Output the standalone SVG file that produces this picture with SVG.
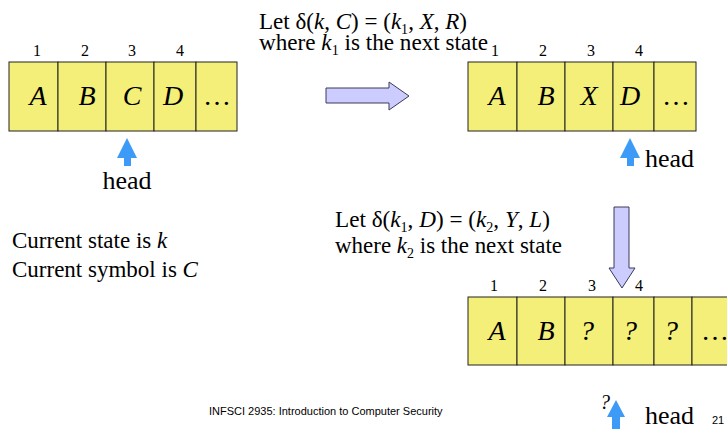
<svg xmlns="http://www.w3.org/2000/svg" width="727" height="429" viewBox="0 0 727 429">
<style>
.t{font-family:"Liberation Serif","Times New Roman",serif;fill:#000}
.cell{fill:#f3ef78;stroke:#222;stroke-width:1}
.sym{font-family:"Liberation Serif",serif;font-style:italic;font-size:28px;text-anchor:middle}
.dots{font-family:"Liberation Serif",serif;font-size:28px;text-anchor:middle}
.num{font-family:"Liberation Serif",serif;font-size:16px;text-anchor:middle}
.txt{font-family:"Liberation Serif",serif;font-size:23px}
.head{font-family:"Liberation Serif",serif;font-size:26px}
.blue{fill:#3d9bf7}
.big{fill:#ccccff;stroke:#3a3a5a;stroke-width:1}
.sans{font-family:"Liberation Sans",Arial,sans-serif;font-size:11px}
</style>
<rect width="727" height="429" fill="#fff"/>

<g id="tape1">
<rect class="cell" x="9" y="62" width="49" height="69"/>
<rect class="cell" x="58" y="62" width="48" height="69"/>
<rect class="cell" x="106" y="62" width="48" height="69"/>
<rect class="cell" x="154" y="62" width="42" height="69"/>
<rect class="cell" x="196" y="62" width="41" height="69"/>
<text class="num" x="37" y="56">1</text>
<text class="num" x="85" y="56">2</text>
<text class="num" x="132" y="56">3</text>
<text class="num" x="180" y="56">4</text>
<text class="sym" x="38" y="105">A</text>
<text class="sym" x="87" y="105">B</text>
<text class="sym" x="132" y="105">C</text>
<text class="sym" x="173" y="105">D</text>
<text class="dots" x="217" y="105">…</text>
</g>

<g id="head1">
<polygon class="blue" points="127,138 137,158 131,158 131,166 124,166 124,158 117,158"/>
<text class="head" x="127" y="189" text-anchor="middle">head</text>
</g>

<g id="label1">
<text class="txt" x="259" y="29" textLength="208" lengthAdjust="spacingAndGlyphs">Let δ(<tspan font-style="italic">k</tspan>, <tspan font-style="italic">C</tspan>) = (<tspan font-style="italic">k</tspan><tspan font-size="14" dy="5">1</tspan><tspan dy="-5">, </tspan><tspan font-style="italic">X</tspan>, <tspan font-style="italic">R</tspan>)</text>
<text class="txt" x="259" y="50" textLength="229" lengthAdjust="spacingAndGlyphs">where <tspan font-style="italic">k</tspan><tspan font-size="14" dy="5">1</tspan><tspan dy="-5"> is the next state</tspan></text>
</g>

<g id="state">
<text class="txt" x="12" y="248">Current state is <tspan font-style="italic">k</tspan></text>
<text class="txt" x="12" y="277">Current symbol is <tspan font-style="italic">C</tspan></text>
</g>

<g id="tape2">
<rect class="cell" x="468" y="62" width="49" height="69"/>
<rect class="cell" x="517" y="62" width="48" height="69"/>
<rect class="cell" x="565" y="62" width="48" height="69"/>
<rect class="cell" x="613" y="62" width="41" height="69"/>
<rect class="cell" x="654" y="62" width="42" height="69"/>
<text class="num" x="495" y="56">1</text>
<text class="num" x="543" y="56">2</text>
<text class="num" x="591" y="56">3</text>
<text class="num" x="639" y="56">4</text>
<text class="sym" x="497" y="105">A</text>
<text class="sym" x="546" y="105">B</text>
<text class="sym" x="589" y="105">X</text>
<text class="sym" x="630" y="105">D</text>
<text class="dots" x="676" y="105">…</text>
</g>

<g id="head2">
<polygon class="blue" points="630,138 640,158 634,158 634,166 627,166 627,158 620,158"/>
<text class="head" x="645" y="167">head</text>
</g>

<g id="label2">
<text class="txt" x="335" y="227" textLength="215" lengthAdjust="spacingAndGlyphs">Let δ(<tspan font-style="italic">k</tspan><tspan font-size="14" dy="5">1</tspan><tspan dy="-5">, </tspan><tspan font-style="italic">D</tspan>) = (<tspan font-style="italic">k</tspan><tspan font-size="14" dy="5">2</tspan><tspan dy="-5">, </tspan><tspan font-style="italic">Y</tspan>, <tspan font-style="italic">L</tspan>)</text>
<text class="txt" x="335" y="253" textLength="227" lengthAdjust="spacingAndGlyphs">where <tspan font-style="italic">k</tspan><tspan font-size="14" dy="5">2</tspan><tspan dy="-5"> is the next state</tspan></text>
</g>

<g id="tape3">
<rect class="cell" x="468" y="297" width="49" height="68"/>
<rect class="cell" x="517" y="297" width="48" height="68"/>
<rect class="cell" x="565" y="297" width="48" height="68"/>
<rect class="cell" x="613" y="297" width="41" height="68"/>
<rect class="cell" x="654" y="297" width="38" height="68"/>
<rect class="cell" x="692" y="297" width="45" height="68"/>
<text class="num" x="494" y="291">1</text>
<text class="num" x="543" y="291">2</text>
<text class="num" x="592" y="291">3</text>
<text class="num" x="639" y="291">4</text>
<text class="sym" x="497" y="340">A</text>
<text class="sym" x="546" y="340">B</text>
<text class="sym" x="587" y="340">?</text>
<text class="sym" x="630" y="340">?</text>
<text class="sym" x="671" y="340">?</text>
<text class="dots" x="715" y="340">…</text>
</g>

<g id="head3">
<text class="t" x="605" y="409" font-size="20" font-style="italic" text-anchor="middle">?</text>
<polygon class="blue" points="616,400 625,417 620,417 620,429 612,429 612,417 607,417"/>
<text class="head" x="645" y="424">head</text>
</g>

<g id="connectors">
<polygon class="big" points="326,88 389,88 389,82 409,96 389,110 389,103 326,103"/>
<polygon class="big" points="614,207 629,207 629,268 635,268 622,288 609,268 614,268"/>
</g>

<g id="footer">
<text class="sans" x="209" y="415">INFSCI 2935: Introduction to Computer Security</text>
<text class="sans" x="712" y="424">21</text>
</g>
</svg>
